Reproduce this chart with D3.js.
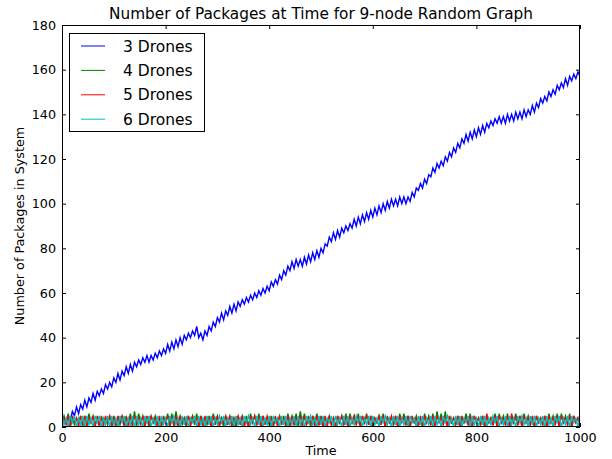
<!DOCTYPE html>
<html>
<head>
<meta charset="utf-8">
<script src="https://cdn.jsdelivr.net/npm/d3@7"></script>
<style>
  html, body { margin: 0; padding: 0; background: #fff; }
  svg { display: block; }
  text { font-family: "DejaVu Sans", sans-serif; fill: #000; }
</style>
</head>
<body>
<svg id="chart" width="612" height="459"></svg>
<script>
// ---------------- DATA ----------------
const chartTitle = "Number of Packages at Time for 9-node Random Graph";
const xLabel = "Time";
const yLabel = "Number of Packages in System";
const seriesNames = ["3 Drones", "4 Drones", "5 Drones", "6 Drones"];
const seriesColors = ["#0000ff", "#008000", "#ff0000", "#00bfbf"];
const xTicks = [0, 200, 400, 600, 800, 1000];
const yTicks = [0, 20, 40, 60, 80, 100, 120, 140, 160, 180];
const timeStart = 0, timeEnd = 1000, timeStep = 4;

// values sampled every 4 time units (t = 0, 4, 8, ..., 1000)
const drones3 = [
  0,4,2,5,3,7,5,9,6,10,
  8,12,9,13,11,15,12,16,14,17,
  15,19,17,20,18,22,20,24,21,25,
  23,27,24,28,25,29,27,30,28,31,
  29,32,29,32,30,33,31,34,32,35,
  33,37,34,38,35,39,36,40,37,41,
  39,42,40,43,41,45,40,42,39,43,
  41,45,43,47,45,49,47,51,48,52,
  50,54,51,55,52,56,54,57,55,58,
  56,59,57,60,58,61,59,62,60,63,
  61,65,63,66,64,68,66,70,68,72,
  70,74,71,75,72,75,72,76,73,77,
  74,78,75,79,76,80,78,82,81,85,
  83,87,84,88,85,89,87,90,88,91,
  89,93,90,94,91,95,92,96,93,97,
  94,98,95,99,96,100,97,101,98,102,
  99,102,99,103,100,103,100,103,101,105,
  103,107,106,109,107,111,109,113,112,116,
  114,118,116,119,117,121,119,123,121,125,
  123,127,125,129,127,131,128,132,129,133,
  130,134,131,135,132,136,134,137,135,138,
  136,139,136,139,136,140,137,140,137,141,
  138,141,138,142,139,142,140,144,141,145,
  143,147,145,148,146,150,148,151,149,153,
  151,154,152,156,153,157,155,158,156,159,
  157
];
const drones4 = [
  1,5,2,6,0,5,1,4,2,5,
  0,5,1,6,2,5,1,4,0,5,
  2,4,1,5,0,5,2,4,1,5,
  0,5,2,6,1,7,0,6,2,5,
  1,4,0,5,2,5,1,4,0,5,
  2,6,1,6,0,7,2,5,1,4,
  0,5,2,5,1,6,0,5,2,4,
  1,5,0,6,2,5,1,4,0,5,
  2,5,1,4,0,5,2,5,1,5,
  0,6,2,5,1,6,0,5,2,4,
  1,5,0,4,2,5,1,5,0,6,
  2,5,1,6,0,7,2,6,1,5,
  0,5,2,6,1,5,0,4,2,5,
  1,4,0,5,2,5,1,6,0,6,
  2,5,1,6,0,5,2,6,1,5,
  0,4,2,5,1,6,0,5,2,4,
  1,5,0,6,2,6,1,5,0,4,
  2,5,1,4,0,6,2,5,1,6,
  0,7,2,6,1,7,0,5,2,4,
  1,5,0,4,2,6,1,6,0,5,
  2,4,1,5,0,5,2,4,1,6,
  0,6,2,5,1,6,0,5,2,6,
  1,5,0,6,2,5,1,4,0,5,
  2,4,1,5,0,6,2,5,1,6,
  0,6,2,5,1,6,0,5,2,4,
  1
];
const drones5 = [
  0,4,1,5,0,5,2,4,0,5,
  1,5,0,4,2,5,0,5,1,4,
  0,5,2,5,1,4,0,5,2,5,
  1,4,0,5,0,5,2,4,1,5,
  0,5,1,5,2,4,0,5,1,4,
  2,5,0,4,1,5,0,5,2,4,
  1,5,0,5,2,4,0,5,0,5,
  2,4,0,5,1,5,0,4,2,5,
  1,5,0,4,2,5,1,5,0,4,
  0,5,2,5,1,4,0,5,1,5,
  2,4,1,5,0,5,2,4,1,5,
  0,5,1,4,2,5,0,5,1,4,
  2,5,0,5,1,4,0,5,0,5,
  1,4,0,5,2,5,1,4,0,5,
  2,5,1,4,0,5,2,5,1,5,
  0,4,2,5,1,5,0,4,2,5,
  1,5,0,5,2,4,1,5,0,5,
  2,4,0,5,0,5,2,4,1,5,
  0,5,2,4,1,5,0,5,2,4,
  1,5,0,5,2,4,1,5,0,5,
  2,4,1,5,0,6,2,4,1,5,
  0,5,2,4,1,5,0,6,2,4,
  1,5,0,5,2,4,1,5,0,5,
  2,4,1,5,0,5,2,4,1,5,
  0,5,2,4,1,5,0,5,2,4,
  1
];
const drones6 = [
  5,1,4,0,5,2,5,0,4,1,
  5,0,5,1,4,0,5,2,5,0,
  4,1,5,0,5,1,4,0,5,2,
  5,0,4,1,5,0,5,1,4,0,
  5,2,5,0,4,1,5,0,5,1,
  4,0,5,2,5,1,4,0,5,1,
  5,0,4,2,5,0,5,1,4,0,
  5,1,5,0,4,1,5,2,5,0,
  4,1,5,0,5,1,4,0,5,2,
  5,1,4,0,5,1,5,0,4,1,
  5,0,5,2,4,0,5,1,5,0,
  4,1,5,0,5,1,4,0,5,2,
  5,1,4,0,5,1,5,0,4,2,
  5,0,5,1,4,0,5,1,5,0,
  4,1,5,2,5,0,4,1,5,0,
  5,1,4,0,5,2,5,1,4,0,
  5,1,5,0,4,1,5,0,5,2,
  4,0,5,1,5,0,4,1,5,0,
  5,1,4,0,5,2,5,1,4,0,
  5,1,5,0,4,2,5,0,5,1,
  4,0,5,1,5,0,4,1,5,2,
  5,0,4,1,5,0,5,1,4,0,
  5,2,5,1,4,0,5,1,5,0,
  4,1,5,0,5,1,4,0,5,2,
  5,0,4,1,5,0,5,2,4,0,
  5
];
const seriesValues = [drones3, drones4, drones5, drones6];

// ---------------- LAYOUT ----------------
const plot = { left: 62, right: 580, top: 25, bottom: 427 };
const svg = d3.select("#chart");

const x = d3.scaleLinear().domain([0, 1000]).range([plot.left, plot.right]);
const y = d3.scaleLinear().domain([0, 180]).range([plot.bottom, plot.top]);

const times = d3.range(timeStart, timeEnd + 1, timeStep);

svg.append("defs").append("clipPath").attr("id", "clip")
  .append("rect")
  .attr("x", plot.left).attr("y", plot.top)
  .attr("width", plot.right - plot.left).attr("height", plot.bottom - plot.top);

const line = d3.line()
  .x((d, i) => x(times[i]))
  .y(d => y(d));

const lines = svg.append("g").attr("clip-path", "url(#clip)");
seriesValues.forEach((vals, k) => {
  lines.append("path")
    .datum(vals)
    .attr("d", line)
    .attr("fill", "none")
    .attr("stroke", seriesColors[k])
    .attr("stroke-width", 1.4)
    .attr("stroke-linejoin", "miter");
});

// Axes (ticks inward on all four sides)
const tickLen = 4;
const fontTick = "12.75px";
const xAxisB = d3.axisBottom(x).tickValues(xTicks).tickSizeInner(-tickLen).tickSizeOuter(0).tickFormat(d3.format("d"));
const xAxisT = d3.axisTop(x).tickValues(xTicks).tickSizeInner(-tickLen).tickSizeOuter(0).tickFormat("");
const yAxisL = d3.axisLeft(y).tickValues(yTicks).tickSizeInner(-tickLen).tickSizeOuter(0).tickFormat(d3.format("d"));
const yAxisR = d3.axisRight(y).tickValues(yTicks).tickSizeInner(-tickLen).tickSizeOuter(0).tickFormat("");

function styleAxis(g) {
  g.select(".domain").remove();
  g.selectAll(".tick line").attr("stroke", "#000").attr("stroke-width", 1);
  g.selectAll(".tick text").attr("font-family", "DejaVu Sans, sans-serif").attr("font-size", fontTick).attr("fill", "#000");
}

svg.append("g").attr("transform", `translate(0,${plot.bottom})`).call(xAxisB).call(styleAxis)
  .selectAll(".tick text").attr("dy", "0.71em").attr("y", 6);
svg.append("g").attr("transform", `translate(0,${plot.top})`).call(xAxisT).call(styleAxis);
svg.append("g").attr("transform", `translate(${plot.left},0)`).call(yAxisL).call(styleAxis)
  .selectAll(".tick text").attr("x", -6);
svg.append("g").attr("transform", `translate(${plot.right},0)`).call(yAxisR).call(styleAxis);

// Frame
svg.append("rect")
  .attr("x", plot.left + 0.5).attr("y", plot.top + 0.5)
  .attr("width", plot.right - plot.left - 1).attr("height", plot.bottom - plot.top - 1)
  .attr("fill", "none").attr("stroke", "#000").attr("stroke-width", 1);

// Title and labels
svg.append("text")
  .attr("x", (plot.left + plot.right) / 2).attr("y", 19)
  .attr("text-anchor", "middle").attr("font-size", "15.3px")
  .text(chartTitle);

svg.append("text")
  .attr("x", (plot.left + plot.right) / 2).attr("y", 455)
  .attr("text-anchor", "middle").attr("font-size", "12.75px")
  .text(xLabel);

svg.append("text")
  .attr("transform", `translate(24,${(plot.top + plot.bottom) / 2}) rotate(-90)`)
  .attr("text-anchor", "middle").attr("font-size", "12.75px")
  .text(yLabel);

// Legend
const legend = svg.append("g");
legend.append("rect")
  .attr("x", 69.5).attr("y", 33.5).attr("width", 135).attr("height", 98)
  .attr("fill", "#fff").attr("stroke", "#000").attr("stroke-width", 1);
seriesNames.forEach((name, k) => {
  const cy = 46 + k * 24.4;
  legend.append("line")
    .attr("x1", 81).attr("x2", 105).attr("y1", cy).attr("y2", cy)
    .attr("stroke", seriesColors[k]).attr("stroke-width", 1);
  legend.append("text")
    .attr("x", 123).attr("y", cy).attr("dy", "0.36em")
    .attr("font-size", "15.5px")
    .text(name);
});
</script>
</body>
</html>
